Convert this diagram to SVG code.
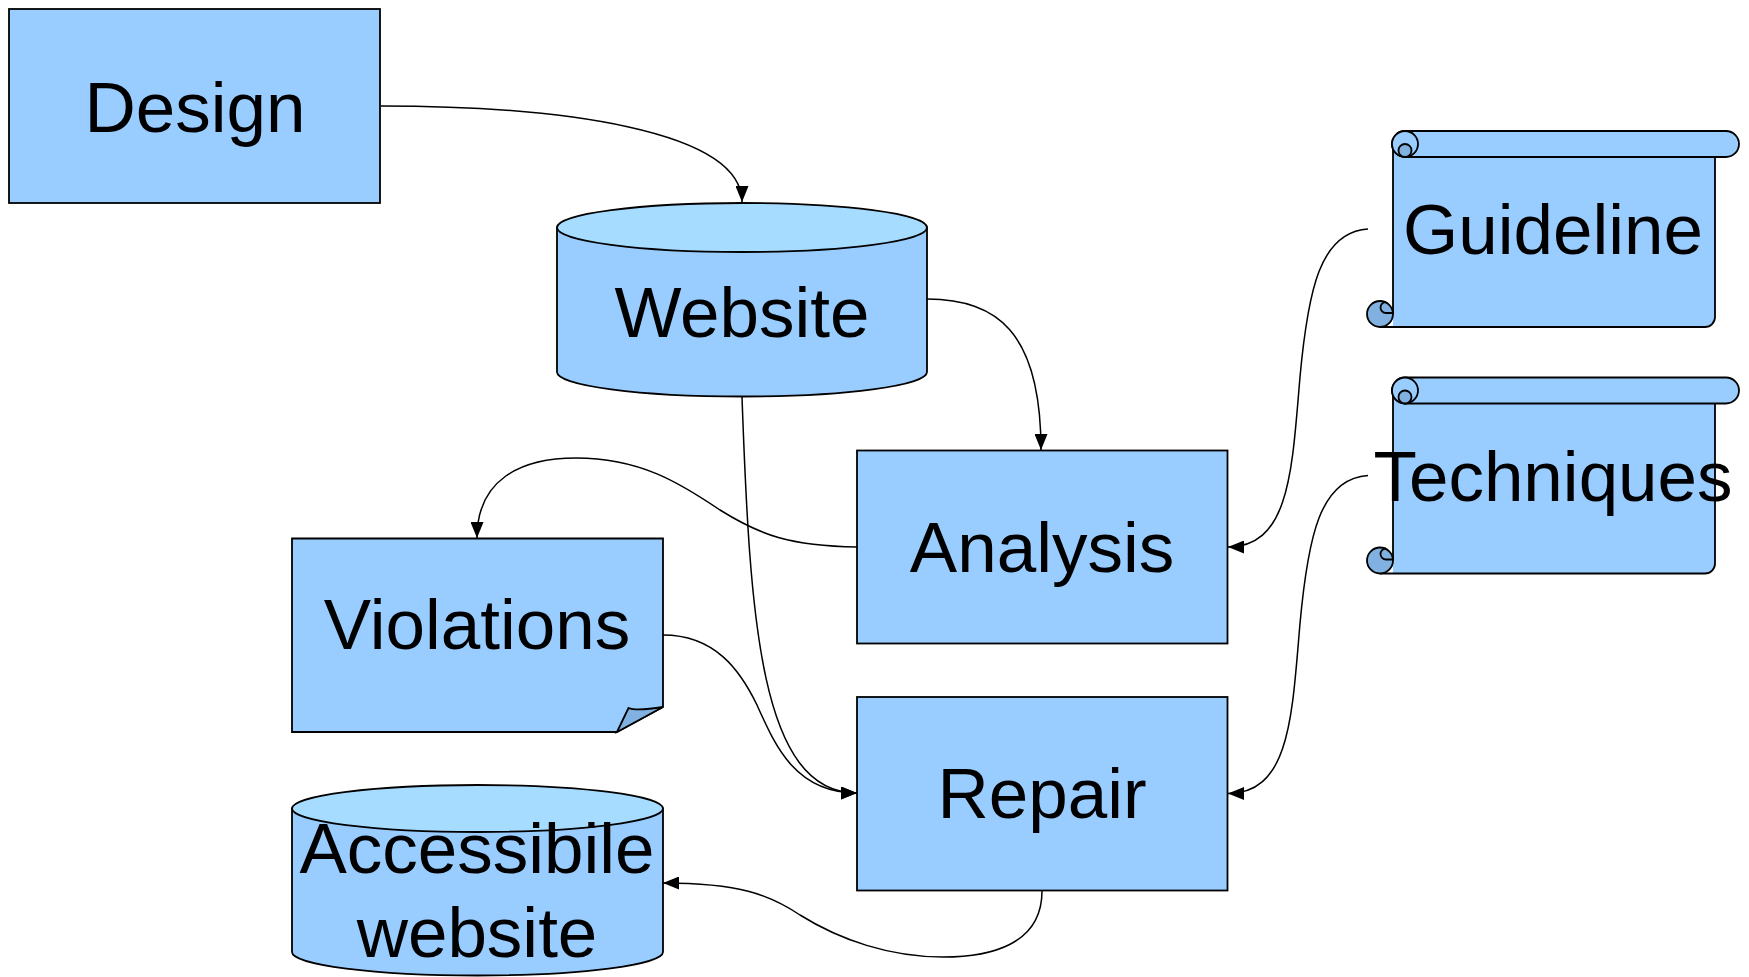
<svg xmlns="http://www.w3.org/2000/svg" xmlns:xlink="http://www.w3.org/1999/xlink" width="1749" height="977" viewBox="0 0 1749 977">
<style>
.box{fill:#99ccff;stroke:#000;stroke-width:1.8}
.top{fill:#a6dcff;stroke:#000;stroke-width:1.8}
.dark{fill:#80b1e0;stroke:#000;stroke-width:1.8}
.nofill{fill:none;stroke:#000;stroke-width:1.8}
.lbl{font-family:"Liberation Sans",Arial,sans-serif;font-size:71px;fill:#000;text-anchor:middle}
.conn{fill:none;stroke:#000;stroke-width:1.5;marker-end:url(#arr)}
</style>
<defs>
<marker id="arr" markerUnits="userSpaceOnUse" markerWidth="16" markerHeight="13" refX="16" refY="6.5" orient="auto">
<path d="M0,0 L16,6.5 L0,13 Z" fill="#000"/>
</marker>
<g id="scroll">
<path d="M1393,144 V327 H1705 A10,10 0 0 0 1715,317 V144 Z" fill="#99ccff" stroke="none"/>
<path class="nofill" d="M1393,144 V314 M1380,327 H1705 A10,10 0 0 0 1715,317 V157"/>
<circle class="dark" cx="1380" cy="314" r="13"/>
<path class="nofill" d="M1393,313 H1386 A5.5,5.5 0 0 1 1386,302"/>
<path class="box" d="M1405,131 H1726 A13,13 0 0 1 1726,157 H1405 A13,13 0 0 1 1405,131 Z"/>
<circle class="box" cx="1405" cy="144" r="13"/>
<path class="dark" d="M1405,157 A6.5,6.5 0 1 1 1411.5,150.5 A6.5,6.5 0 0 1 1405,157 Z"/>
</g>
</defs>
<rect width="1749" height="977" fill="#fff"/>

<g id="connectors">
<path class="conn" d="M381,106 C560,106 742,130 742,202"/>
<path class="conn" d="M927,299 C995,299 1041,330 1041,450"/>
<path class="conn" d="M742,397 C750,620 760,793 857,793"/>
<path class="conn" d="M857,547 C790,546 760,535 720,510 C680,483 640,458 576,458 C520,458 477,480 477,538"/>
<path class="conn" d="M663,635 C715,635 740,670 757,705 C775,745 795,793 857,793"/>
<path class="conn" d="M1368,229 C1320,232 1308,290 1300,377 C1292,470 1290,547 1228,547"/>
<path class="conn" d="M1368,475.5 C1320,478.5 1308,536.5 1300,623.5 C1292,716.5 1290,793.5 1228,793.5"/>
<path class="conn" d="M1042,891 C1042,945 990,957 943,957 C890,957 840,940 800,915 C770,895 740,883 663,883"/>
</g>

<g id="design">
<rect class="box" x="9" y="9" width="371" height="194"/>
<text class="lbl" x="195" y="131.5">Design</text>
</g>

<g id="website">
<path class="box" d="M557,227.5 V372 A185,24.5 0 0 0 927,372 V227.5 Z"/>
<ellipse class="top" cx="742" cy="227.5" rx="185" ry="24.5"/>
<text class="lbl" x="742" y="337">Website</text>
</g>

<g id="analysis">
<rect class="box" x="857" y="450.5" width="370.5" height="193"/>
<text class="lbl" x="1042" y="571.5">Analysis</text>
</g>

<g id="repair">
<rect class="box" x="857" y="697" width="370.5" height="193.5"/>
<text class="lbl" x="1042" y="818">Repair</text>
</g>

<g id="violations">
<path class="box" d="M292,538.5 H663 V707 L617,732 H292 Z"/>
<path class="dark" d="M617,732 L628.5,708 C636,711 648,709.5 663,707 Z"/>
<text class="lbl" x="477" y="648.5">Violations</text>
</g>

<g id="accessible">
<path class="box" d="M292,808.5 V952 A185.5,23.5 0 0 0 663,952 V808.5 Z"/>
<ellipse class="top" cx="477.5" cy="808.5" rx="185.5" ry="23.5"/>
<text class="lbl" x="477" y="873">Accessibile</text>
<text class="lbl" x="477" y="957">website</text>
</g>

<g id="guideline">
<use xlink:href="#scroll"/>
<text class="lbl" x="1553" y="253.5">Guideline</text>
</g>

<g id="techniques">
<use xlink:href="#scroll" y="246.5"/>
<text class="lbl" x="1553" y="501">Techniques</text>
</g>
</svg>
